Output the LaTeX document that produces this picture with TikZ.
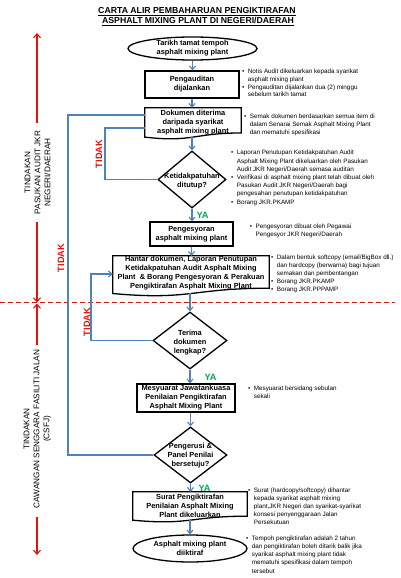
\documentclass[tikz,border=0pt]{standalone}
\usepackage{fontspec}
\setmainfont{Liberation Sans}
\usetikzlibrary{shapes.geometric,arrows.meta,calc}
\definecolor{flowblue}{HTML}{4F81BD}
\definecolor{axred}{HTML}{E3120B}
\definecolor{yagreen}{HTML}{00A651}
\newcommand\flowfont{\fontsize{7.4}{9}\selectfont\bfseries}
\newcommand\notesfont{\fontsize{6.3}{8}\selectfont}
\newcommand\tidakfont{\fontsize{9.2}{11}\selectfont\bfseries}
\newcommand\sidefont{\fontsize{8.2}{10}\selectfont}
\newcommand\titlefont{\fontsize{8.7}{10}\selectfont\bfseries}
\newcommand\notelist[2][8]{\fontsize{6.3}{#1}\selectfont\begin{tabular}[t]{@{}l@{\hspace{3.6pt}}l@{}}#2\end{tabular}}
\newcommand\docoutline[1]{%
  \draw[line width=1.3pt] (#1.north west) -- (#1.north east) -- ($(#1.north east)!0.802!(#1.south east)$)
    .. controls ($(#1.north)!0.802!(#1.south)$) and ($(#1.north)!1.108!(#1.south)$) .. ($(#1.north west)!0.934!(#1.south west)$) -- cycle;
  \coordinate (#1w) at ($(#1.north)!0.933!(#1.south)$);}
\tikzset{
  nodeframe/.style={draw=black,line width=1.3pt,inner sep=0pt},
  procbox/.style={nodeframe,rectangle,align=center,font=\flowfont},
  ellframe/.style={nodeframe,ellipse},
  diaframe/.style={nodeframe,diamond},
  docframe/.style={rectangle,inner sep=0pt},
  ftext/.style={align=center,font=\flowfont,inner sep=0pt},
  flow/.style={draw=flowblue,line width=1.1pt,-{Straight Barb[length=3.5pt,width=6pt]}},
  loopline/.style={draw=flowblue,line width=1.1pt},
  tidak/.style={text=axred,font=\tidakfont,rotate=90,inner sep=0pt},
  yalab/.style={text=yagreen,font=\tidakfont,inner sep=0pt},
  redarrow/.style={draw=axred,line width=1.1pt,-{Straight Barb[length=4pt,width=7pt]}},
  sidelab/.style={rotate=90,align=center,font=\sidefont,inner sep=0pt},
  note/.style={anchor=base west,inner sep=0pt},
}
\begin{document}
\begin{tikzpicture}[x=1pt,y=-1pt]
\useasboundingbox (0,0) rectangle (400,578);
% title
\node[anchor=base,inner sep=0pt,font=\titlefont] (t1) at (197,14) {\underline{CARTA ALIR PEMBAHARUAN PENGIKTIRAFAN}};
\node[anchor=base,inner sep=0pt,font=\titlefont] (t2) at (198,24) {\underline{ASPHALT MIXING PLANT DI NEGERI/DAERAH}};

% left side labels and red arrows
\node[sidelab] (lab1) at (37.5,172.5) {TINDAKAN\\PASUKAN AUDIT JKR\\NEGERI/DAERAH};
\node[sidelab] (lab2) at (37.5,429) {TINDAKAN\\CAWANGAN SENGGARA FASILITI JALAN\\(CSFJ)};
\coordinate (r1a) at (37,123); \coordinate (r1b) at (37,33);
\coordinate (r2a) at (37,222); \coordinate (r2b) at (37,302.5);
\coordinate (r3a) at (37,345); \coordinate (r3b) at (37,303.5);
\coordinate (r4a) at (37,517); \coordinate (r4b) at (37,555);
\draw[redarrow] (r1a) -- (r1b);
\draw[redarrow] (r2a) -- (r2b);
\draw[redarrow] (r3a) -- (r3b);
\draw[redarrow] (r4a) -- (r4b);
\coordinate (dl1) at (0,302.3); \coordinate (dl2) at (395,302.3);
\draw[axred,line width=1pt,dash pattern=on 5pt off 3pt] (dl1) -- (dl2);

% flow nodes
\node[ellframe,minimum width=129pt,minimum height=23pt] (e1) at (192.5,48.5) {};
\node[ftext] (e1t) at (e1) {Tarikh tamat tempoh\\asphalt mixing plant};
\node[procbox,minimum width=94pt,minimum height=27pt] (b1) at (192,84.5) {Pengauditan\\dijalankan};
\node[docframe,minimum width=96pt,minimum height=31pt] (d1) at (193,123.5) {};
\docoutline{d1}
\node[ftext] (d1t) at (193,122.5) {Dokumen diterima\\daripada syarikat\\asphalt mixing plant};
\node[diaframe,minimum width=68pt,minimum height=57pt] (dia1) at (192,179.5) {};
\node[ftext] (dia1t) at (192,181.5) {Ketidakpatuhan\\ditutup?};
\node[procbox,minimum width=83pt,minimum height=24pt] (b2) at (191.5,234) {Pengesyoran\\asphalt mixing plant};
\node[docframe,minimum width=156pt,minimum height=40pt] (d2) at (191,276) {};
\docoutline{d2}
\node[ftext] (d2t) at (191,273) {Hantar dokumen, Laporan Penutupan\\Ketidakpatuhan Audit Asphalt Mixing\\Plant \ \& Borang Pengesyoran \& Perakuan\\Pengiktirafan Asphalt Mixing Plant};
\node[diaframe,minimum width=74pt,minimum height=57pt] (dia2) at (190,340.5) {};
\node[ftext] (dia2t) at (190,342.5) {Terima\\dokumen\\lengkap?};
\node[procbox,minimum width=98pt,minimum height=28pt] (b3) at (186,398) {Mesyuarat Jawatankuasa\\Penilaian Pengiktirafan\\Asphalt Mixing Plant};
\node[diaframe,minimum width=73pt,minimum height=56pt] (dia3) at (190.5,455) {};
\node[ftext] (dia3t) at (190.5,455.5) {Pengerusi \&\\Panel Penilai\\bersetuju?};
\node[docframe,minimum width=114pt,minimum height=30pt] (d3) at (190,507) {};
\docoutline{d3}
\node[ftext] (d3t) at (190,506) {Surat Pengiktirafan\\Penilaian Asphalt Mixing\\Plant dikeluarkan};
\node[ellframe,minimum width=114pt,minimum height=27pt] (e2) at (190,548.5) {};
\node[ftext] (e2t) at (e2) {Asphalt mixing plant\\diiktiraf};

% main flow arrows
\draw[flow] (e1.south) -- (e1.south |- b1.north);
\draw[flow] (b1.south) -- (b1.south |- d1.north);
\draw[flow] (dia1.north |- d1w) -- (dia1.north);
\draw[flow] (dia1.south) -- (dia1.south |- b2.north);
\draw[flow] (b2.south) -- (b2.south |- d2.north);
\draw[flow] (dia2.north |- d2w) -- (dia2.north);
\draw[flow] (dia2.south) -- (dia2.south |- b3.north);
\draw[flow] (dia3.north |- b3.south) -- (dia3.north);
\draw[flow] (dia3.south) -- (dia3.south |- d3.north);
\draw[flow] (e2.north |- d3w) -- (e2.north);

% loops
\coordinate (l1) at (105,128);
\coordinate (l2) at (68,115);
\coordinate (l3) at (91,274);
\draw[loopline] (dia1.west) -| (l1) -- (l1 -| d1.west);
\draw[loopline] (dia3.west) -| (l2) -- (l2 -| d1.west);
\draw[flow] (dia2.west) -| (l3) -- (l3 -| d2.west);

% labels
\node[tidak] (td1) at (99,154) {TIDAK};
\node[tidak] (td2) at (61,258) {TIDAK};
\node[tidak] (td3) at (87,322) {TIDAK};
\node[yalab] (ya1) at (202.5,215) {YA};
\node[yalab] (ya2) at (210.5,377) {YA};
\node[yalab] (ya3) at (204.5,488.5) {YA};

% notes
\node[note] (n1) at (241.9,73.9) {\notelist[7.6]{\textbullet & Notis Audit dikeluarkan kepada syarikat\\ & asphalt mixing plant\\ \textbullet & Pengauditan dijalankan dua (2) minggu\\ & sebelum tarikh tamat}};
\node[note] (n2) at (243.9,118.2) {\notelist[8.3]{\textbullet & Semak dokumen berdasarkan semua item di\\ & dalam Senarai Semak Asphalt Mixing Plant\\ & dan mematuhi spesifikasi}};
\node[note] (n3) at (230.9,154.9) {\notelist[8.2]{\textbullet & Laporan Penutupan Ketidakpatuhan Audit\\ & Asphalt Mixing Plant dikeluarkan oleh Pasukan\\ & Audit JKR Negeri/Daerah semasa auditan\\ \textbullet & Verifikasi di asphalt mixing plant telah dibuat oleh\\ & Pasukan Audit JKR Negeri/Daerah bagi\\ & pengesahan penutupan ketidakpatuhan\\ \textbullet & Borang JKR.PKAMP}};
\node[note] (n4) at (249.6,228.9) {\notelist[7.7]{\textbullet & Pengesyoran dibuat oleh Pegawai\\ & Pengesyor JKR Negeri/Daerah}};
\node[note] (n5) at (270.9,259.2) {\notelist[8]{\textbullet & Dalam bentuk softcopy (email/BigBox dll.)\\ & dan hardcopy (berwarna) bagi tujuan\\ & semakan dan pembentangan\\ \textbullet & Borang JKR.PKAMP\\ \textbullet & Borang JKR.PPPAMP}};
\node[note] (n6) at (247.9,390.2) {\notelist[8]{\textbullet & Mesyuarat bersidang sebulan\\ & sekali}};
\node[note] (n7) at (247.9,492.9) {\notelist[7.8]{\textbullet & Surat (hardcopy/softcopy) dihantar\\ & kepada syarikat asphalt mixing\\ & plant,JKR Negeri dan syarikat-syarikat\\ & konsesi penyenggaraan Jalan\\ & Persekutuan}};
\node[note] (n8) at (245.9,540.2) {\notelist[8.2]{\textbullet & Tempoh pengiktirafan adalah 2 tahun\\ & dan pengiktirafan boleh ditarik balik jika\\ & syarikat asphalt mixing plant tidak\\ & mematuhi spesifikasi dalam tempoh\\ & tersebut}};
\end{tikzpicture}
\end{document}
